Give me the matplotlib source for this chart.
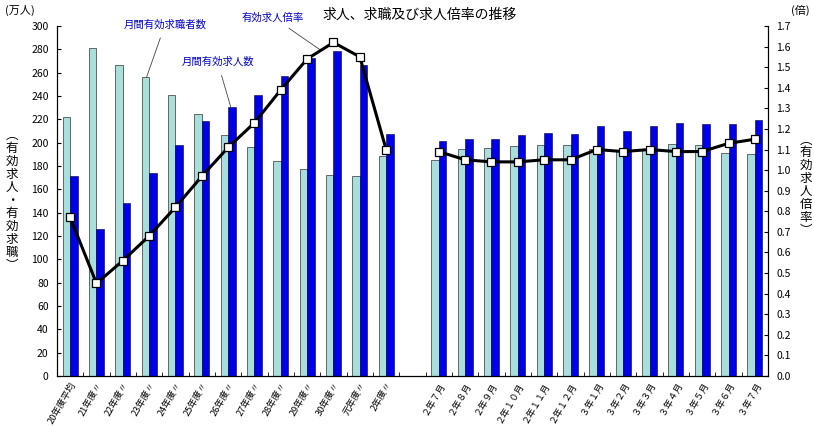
import numpy as np
from matplotlib import pyplot as plt

plt.rcParams['font.family'] = ['Noto Sans CJK JP', 'DejaVu Sans']

# annual averages (万人 / 倍)
year_labels = ["20年度平均", "21年度〃", "22年度〃", "23年度〃", "24年度〃", "25年度〃",
               "26年度〃", "27年度〃", "28年度〃", "29年度〃", "30年度〃", "元年度〃", "2年度〃"]
year_seekers = [221.7, 280.8, 266.3, 256.0, 240.6, 224.3, 206.9, 196.0, 184.0, 177.1, 172.6, 171.0, 188.6]
year_openings = [171.4, 125.7, 148.5, 173.7, 197.7, 218.3, 230.3, 240.6, 256.9, 272.9, 278.6, 266.3, 207.1]
year_ratio = [0.77, 0.45, 0.56, 0.68, 0.82, 0.97, 1.11, 1.23, 1.39, 1.54, 1.62, 1.55, 1.10]

# monthly values
month_labels = ["２年７月", "２年８月", "２年９月", "２年１０月", "２年１１月", "２年１２月",
                "３年１月", "３年２月", "３年３月", "３年４月", "３年５月", "３年６月", "３年７月"]
month_seekers = [184.9, 194.3, 195.1, 196.9, 198.0, 198.0, 194.3, 193.0, 194.3, 198.9, 198.0, 191.1, 190.3]
month_openings = [201.4, 203.1, 203.1, 206.6, 208.3, 207.4, 214.3, 210.0, 214.3, 216.9, 216.0, 216.0, 219.4]
month_ratio = [1.09, 1.05, 1.04, 1.04, 1.05, 1.05, 1.10, 1.09, 1.10, 1.09, 1.09, 1.13, 1.15]

# one empty slot between the two blocks
labels = year_labels + [""] + month_labels
seekers = np.array(year_seekers + [np.nan] + month_seekers)
openings = np.array(year_openings + [np.nan] + month_openings)
ratio = np.array(year_ratio + [np.nan] + month_ratio)
x = np.arange(len(labels))

LIGHT = "#a9dfdb"
BLUE = "#0000e6"
TEXT_BLUE = "#0000cc"

fig = plt.figure(figsize=(8.14, 4.26), dpi=100)
ax = fig.add_axes([0.070, 0.1174, 0.8735, 0.8216])
ax2 = ax.twinx()

w = 0.29
ax.bar(x - w / 2, seekers, w, color=LIGHT, edgecolor="#333333", linewidth=0.5)
ax.bar(x + w / 2, openings, w, color=BLUE, edgecolor="#000033", linewidth=0.4)

ax2.plot(x, ratio, color="black", linewidth=2.2, marker="s", markersize=5.5,
         markerfacecolor="white", markeredgecolor="black", markeredgewidth=0.9, zorder=5)

ax.set_xlim(-0.5, len(labels) - 0.5)
ax.set_ylim(0, 300)
ax.set_yticks(np.arange(0, 301, 20))
ax2.set_ylim(0, 1.7)
ax2.set_yticks(np.round(np.arange(0, 1.71, 0.1), 1))
ax2.set_yticklabels([f"{v:.1f}" for v in np.arange(0, 1.71, 0.1)])

ax.set_xticks(x)
ax.set_xticklabels(labels, rotation=60, ha="right", rotation_mode="anchor", fontsize=6.6)
ax.tick_params(axis="x", length=0, pad=3)
ax.set_xticks(np.arange(-0.5, len(labels), 1), minor=True)
ax.tick_params(axis="x", which="minor", direction="in", length=3)

ax.tick_params(axis="y", direction="in", length=3, labelsize=7.5, pad=6)
ax2.tick_params(axis="y", direction="in", length=3, labelsize=7.5, pad=6)

for a in (ax, ax2):
    a.spines["top"].set_visible(False)

# annotations with leader lines
ax.annotate("月間有効求職者数", xy=(2.9, 256), xytext=(3.6, 301), color=TEXT_BLUE,
            fontsize=7.5, ha="center", va="center", annotation_clip=False,
            arrowprops=dict(arrowstyle="-", color="#444444", lw=0.6, shrinkA=4, shrinkB=0))
ax.annotate("月間有効求人数", xy=(6.1, 230.5), xytext=(5.6, 269), color=TEXT_BLUE,
            fontsize=7.5, ha="center", va="center", annotation_clip=False,
            arrowprops=dict(arrowstyle="-", color="#444444", lw=0.6, shrinkA=4, shrinkB=0))
ax.annotate("有効求人倍率", xy=(9.5, 279.5), xytext=(7.7, 307.5), color=TEXT_BLUE,
            fontsize=7.5, ha="center", va="center", annotation_clip=False,
            arrowprops=dict(arrowstyle="-", color="#444444", lw=0.6, shrinkA=4, shrinkB=0))

fig.text(0.515, 0.965, "求人、求職及び求人倍率の推移", ha="center", va="center", fontsize=10)
fig.text(0.024, 0.975, "(万人)", ha="center", va="center", fontsize=8)
fig.text(0.983, 0.975, "(倍)", ha="center", va="center", fontsize=8)

left_label = "\n".join("︵有効求人・有効求職︶")
fig.text(0.015, 0.53, left_label, ha="center", va="center", fontsize=9, linespacing=1.0)
right_label = "\n".join("︵有効求人倍率︶")
fig.text(0.99, 0.565, right_label, ha="center", va="center", fontsize=9, linespacing=1.0)

fig.savefig("out.png", dpi=100)
